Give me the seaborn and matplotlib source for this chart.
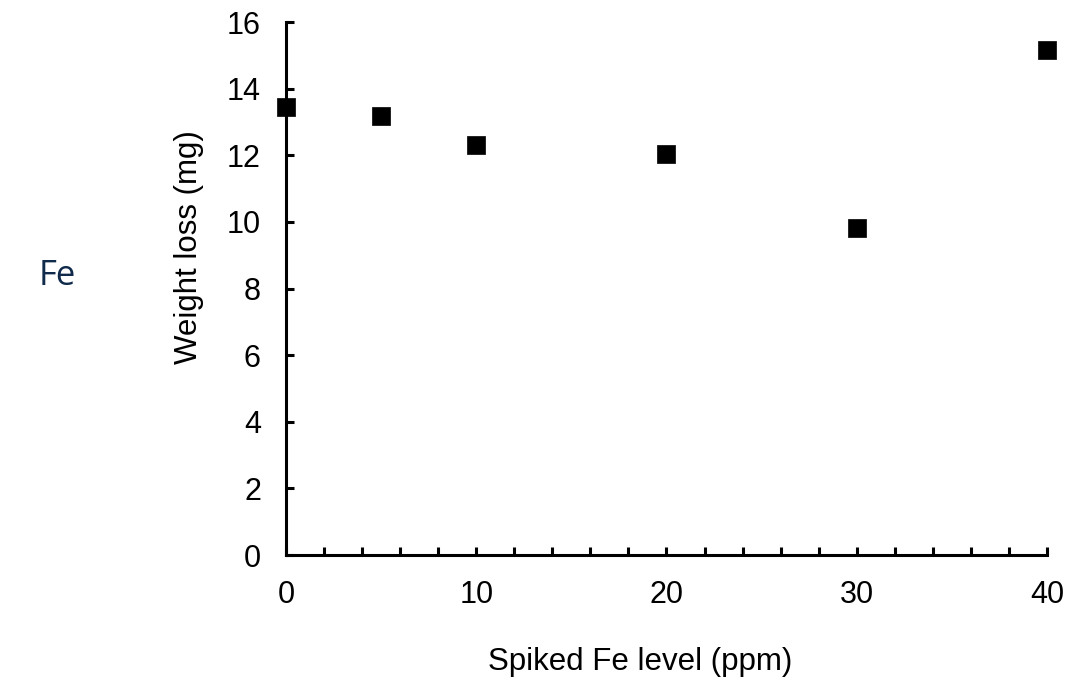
import matplotlib
matplotlib.use("Agg")
import matplotlib.pyplot as plt
import seaborn as sns
import pandas as pd
import numpy as np

fe_level = [0, 5, 10, 20, 30, 40]
weight_loss = [13.45, 13.18, 12.31, 12.04, 9.82, 15.16]
x_ticks = [0, 10, 20, 30, 40]
y_ticks = [0, 2, 4, 6, 8, 10, 12, 14, 16]

sns.set_theme(style="white")
plt.rcParams['font.family'] = ['Liberation Sans', 'DejaVu Sans']

df = pd.DataFrame({"fe": fe_level, "wl": weight_loss})

fig = plt.figure(figsize=(10.69, 6.77), dpi=100)
ax = fig.add_axes([0.2675, 0.1802, 0.7119, 0.7873])

sns.scatterplot(data=df, x="fe", y="wl", marker="s", s=155, color="black",
                edgecolor="black", linewidth=0.5, ax=ax, clip_on=False, zorder=5)

ax.set_xlim(0, 40)
ax.set_ylim(0, 16)
ax.set_xticks(x_ticks)
ax.set_xticks(np.arange(0, 41, 2), minor=True)
ax.set_yticks(y_ticks)
for s in ["top", "right"]:
    ax.spines[s].set_visible(False)
for s in ["left", "bottom"]:
    ax.spines[s].set_linewidth(2.2)
    ax.spines[s].set_color("black")

ax.tick_params(axis="both", which="major", direction="in", length=6, width=2.2,
               labelsize=22, colors="black", pad=18)
ax.tick_params(axis="x", which="minor", direction="in", length=6, width=2.2,
               color="black", bottom=True)
ax.tick_params(axis="x", which="major", bottom=True)
ax.tick_params(axis="y", which="major", left=True)

ax.set_xlabel("Spiked Fe level (ppm)", fontsize=22.5, color="black")
ax.set_ylabel("Weight loss (mg)", fontsize=22.5, color="black")
ax.xaxis.set_label_coords(0.465, -0.172)
ax.yaxis.set_label_coords(-0.108, 0.578)

fig.text(0.054, 0.593, "Fe", fontsize=25, color="#0f2a4a",
         family=["Open Sans", "DejaVu Sans"], ha="center", va="center")

fig.savefig("out.png", dpi=100, facecolor="white")
